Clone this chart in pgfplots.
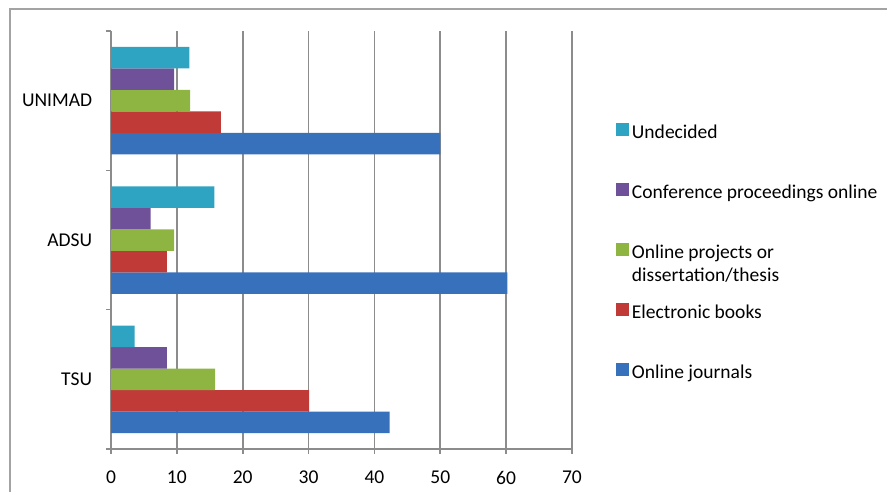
\documentclass[border=0pt]{standalone}
\usepackage{pgfplots}
\pgfplotsset{compat=1.18}
\usepackage{fontspec}
\setmainfont{Carlito}

\definecolor{cJournal}{HTML}{3771BC}
\definecolor{cBook}{HTML}{C03B38}
\definecolor{cProject}{HTML}{8EB542}
\definecolor{cConf}{HTML}{6F5199}
\definecolor{cUndec}{HTML}{2FA3C2}
\definecolor{axisgray}{HTML}{8C8C8C}

\begin{document}
\fontsize{9.8}{11.8}\selectfont
\begin{tikzpicture}
\useasboundingbox (0,0) rectangle (443.5bp,-246bp);
\draw[axisgray!80, line width=0.8bp] (5bp,-246bp) -- (5bp,-4.5bp) -- (443.5bp,-4.5bp);
\begin{axis}[
    at={(55.5bp,-224.5bp)}, anchor=south west,
    scale only axis, width=230.5bp, height=209bp,
    xbar, bar width=10.75bp,
    xmin=0, xmax=70, xtick={0,10,...,70},
    ymin=-0.5, ymax=2.5,
    ytick={0,1,2}, yticklabels={TSU,ADSU,UNIMAD},
    minor ytick={-0.5,0.5,1.5,2.5},
    axis x line*=bottom, axis y line*=left,
    axis line style={axisgray, line width=0.8bp, -},
    tick align=outside,
    major tick length=2.5bp, minor tick length=2.5bp,
    tick style={axisgray, line width=0.8bp},
    major y tick style={draw=none},
    xmajorgrids,
    major grid style={axisgray, line width=0.8bp},
    /pgf/number format/assume math mode=true,
    tick label style={font=\fontsize{9.8}{11.8}\selectfont},
    yticklabel style={xshift=-3.5bp},
    xticklabel style={yshift=-5bp},
    legend cell align=left,
    reverse legend,
    legend style={draw=none, fill=none, inner sep=0pt, outer sep=0pt,
        at={(1.0954,0.781)}, anchor=north west,
        row sep=20bp,
        nodes={inner sep=0pt, text height=8bp, text depth=2bp,
               font=\fontsize{9.8}{11.8}\selectfont},
        /tikz/every odd column/.append style={column sep=1.5bp}},
    legend image code/.code={\fill[#1, draw=none] (0bp,-1.6bp) rectangle (6.5bp,4.9bp);},
]
\addplot[fill=cJournal, draw=none, bar shift=-21.5bp]
    coordinates {(42.3,0) (60.2,1) (50.0,2)};
\addlegendentry{Online journals}
\addplot[fill=cBook, draw=none, bar shift=-10.75bp]
    coordinates {(30.1,0) (8.5,1) (16.7,2)};
\addlegendentry{Electronic books}
\addplot[fill=cProject, draw=none, bar shift=0bp]
    coordinates {(15.8,0) (9.6,1) (12.0,2)};
\addlegendentry{\parbox[t]{130bp}{\fontsize{9.8}{11.7}\selectfont Online projects or\\dissertation/thesis}}
\addplot[fill=cConf, draw=none, bar shift=10.75bp]
    coordinates {(8.5,0) (6.0,1) (9.6,2)};
\addlegendentry{Conference proceedings online}
\addplot[fill=cUndec, draw=none, bar shift=21.5bp]
    coordinates {(3.6,0) (15.7,1) (11.9,2)};
\addlegendentry{Undecided}
\end{axis}
\end{tikzpicture}
\end{document}
